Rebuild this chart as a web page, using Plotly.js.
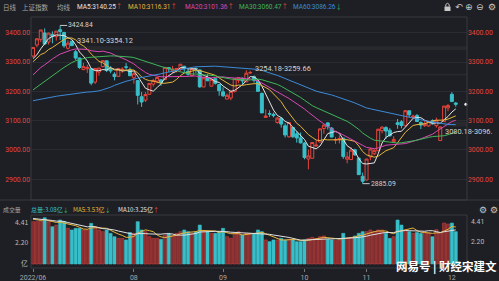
<!DOCTYPE html>
<html><head><meta charset="utf-8">
<script src="https://cdn.plot.ly/plotly-3.0.1.min.js"></script>
<style>html,body{margin:0;padding:0;background:#1e1f24;overflow:hidden}#chart{width:499px;height:281px}</style>
</head><body><div id="chart"></div>
<script>
// ---------------- data ----------------
const dates = [
'2022-06-24','2022-06-27','2022-06-28','2022-06-29','2022-06-30',
'2022-07-01','2022-07-04','2022-07-05','2022-07-06','2022-07-07','2022-07-08','2022-07-11','2022-07-12','2022-07-13','2022-07-14','2022-07-15','2022-07-18','2022-07-19','2022-07-20','2022-07-21','2022-07-22','2022-07-25','2022-07-26','2022-07-27','2022-07-28','2022-07-29',
'2022-08-01','2022-08-02','2022-08-03','2022-08-04','2022-08-05','2022-08-08','2022-08-09','2022-08-10','2022-08-11','2022-08-12','2022-08-15','2022-08-16','2022-08-17','2022-08-18','2022-08-19','2022-08-22','2022-08-23','2022-08-24','2022-08-25','2022-08-26','2022-08-29','2022-08-30','2022-08-31',
'2022-09-01','2022-09-02','2022-09-05','2022-09-06','2022-09-07','2022-09-08','2022-09-09','2022-09-13','2022-09-14','2022-09-15','2022-09-16','2022-09-19','2022-09-20','2022-09-21','2022-09-22','2022-09-23','2022-09-26','2022-09-27','2022-09-28','2022-09-29','2022-09-30',
'2022-10-10','2022-10-11','2022-10-12','2022-10-13','2022-10-14','2022-10-17','2022-10-18','2022-10-19','2022-10-20','2022-10-21','2022-10-24','2022-10-25','2022-10-26','2022-10-27','2022-10-28','2022-10-31',
'2022-11-01','2022-11-02','2022-11-03','2022-11-04','2022-11-07','2022-11-08','2022-11-09','2022-11-10','2022-11-11','2022-11-14','2022-11-15','2022-11-16','2022-11-17','2022-11-18','2022-11-21','2022-11-22','2022-11-23','2022-11-24','2022-11-25','2022-11-28','2022-11-29','2022-11-30',
'2022-12-01','2022-12-02'];

const opens = [3320.6,3358.1,3377.5,3399.2,3368.3,3394.6,3386.8,3410.2,3400.9,3346.9,
3371.2,3335.0,3313.6,3274.0,3277.3,3277.0,3231.6,3265.9,3284.8,3304.2,
3273.7,3258.5,3251.1,3272.1,3283.4,3272.6,3246.2,3236.7,3181.6,3170.1,
3190.1,3224.6,3234.8,3239.4,3240.6,3281.1,3268.6,3274.2,3277.6,3285.5,
3268.8,3253.9,3278.3,3273.0,3215.0,3246.8,3217.8,3243.4,3223.0,3198.3,
3173.6,3177.3,3199.0,3237.7,3244.2,3232.3,3263.0,3250.0,3234.8,3193.0,
3111.1,3123.8,3121.5,3093.8,3108.0,3082.5,3045.0,3077.0,3055.0,3041.3,
3023.4,2969.2,2971.8,3013.6,3027.1,3073.2,3092.5,3074.5,3034.2,3036.6,
3040.4,2968.5,2967.4,3000.6,2972.1,2910.4,2897.6,2976.4,2987.3,2997.4,
3065.7,3076.3,3067.4,3028.4,3092.8,3096.0,3082.8,3133.6,3111.1,3117.3,
3093.5,3083.0,3082.0,3099.6,3083.0,3032.3,3096.9,3143.5,3190.0,3160.2];

const highs = [3349.9,3381.6,3409.6,3414.7,3400.0,3404.7,3405.7,3424.84,3403.0,3374.6,
3371.6,3341.10,3315.0,3297.2,3290.7,3278.0,3278.1,3280.0,3305.3,3304.2,
3286.0,3265.3,3280.2,3282.3,3296.5,3281.3,3265.1,3236.7,3197.9,3197.8,
3227.9,3242.5,3248.0,3240.3,3282.0,3282.6,3287.0,3280.0,3293.0,3287.0,
3280.3,3277.8,3281.2,3274.5,3248.4,3259.0,3245.6,3244.5,3225.3,3213.9,
3192.5,3201.9,3243.5,3248.8,3247.7,3272.1,3270.0,3254.18,3240.0,3195.9,
3138.6,3135.3,3127.7,3113.3,3112.0,3091.0,3093.9,3077.0,3063.0,3059.7,
3026.7,3001.3,3025.6,3032.8,3073.5,3087.8,3093.3,3078.3,3044.3,3049.7,
3041.0,2993.7,3009.8,3004.3,2974.8,2923.0,2969.2,3007.3,3002.8,3072.3,
3081.0,3081.0,3074.7,3047.1,3105.8,3101.5,3135.6,3134.2,3120.5,3122.7,
3098.2,3099.3,3099.9,3104.4,3110.4,3080.18,3149.8,3157.0,3197.0,3163.7];

const lows = [3315.3,3350.4,3368.0,3358.3,3359.7,3363.9,3373.0,3375.2,3348.9,3342.5,
3354.12,3306.5,3276.7,3272.8,3262.8,3220.9,3225.0,3253.6,3281.4,3265.8,
3261.9,3237.5,3250.5,3263.4,3273.2,3252.7,3226.3,3155.3,3147.1,3163.7,
3188.7,3216.1,3227.6,3218.9,3237.7,3265.8,3261.9,3264.7,3267.5,3263.8,
3253.7,3250.7,3262.9,3212.4,3213.7,3234.8,3216.3,3223.0,3185.2,3180.8,
3173.6,3169.8,3196.4,3228.2,3223.5,3231.4,3259.66,3229.7,3199.8,3126.2,
3110.5,3112.7,3111.1,3090.0,3076.4,3042.4,3042.5,3041.4,3025.0,3021.9,
2968.2,2934.1,2971.5,3010.7,3026.4,3055.3,3069.7,3043.0,3020.6,3022.3,
2969.7,2954.4,2966.0,2981.2,2915.4,2885.09,2896.8,2965.0,2982.3,2996.8,
3056.7,3037.5,3046.1,3023.6,3072.2,3074.0,3079.3,3111.5,3104.4,3095.4,
3071.5,3078.8,3079.3,3086.5,3076.4,3031.6,3096.9,3132.0,3163.3,3147.5];

const closes = [3349.75,3379.19,3409.21,3361.52,3398.62,3387.64,3405.43,3404.03,3355.35,3364.40,
3356.08,3313.58,3281.47,3284.29,3281.74,3228.06,3278.10,3279.43,3304.72,3272.00,
3269.97,3250.39,3277.44,3275.76,3282.58,3253.24,3259.96,3186.27,3163.67,3189.04,
3227.03,3236.93,3247.43,3230.02,3281.67,3276.89,3276.09,3277.88,3292.53,3277.54,
3258.08,3277.79,3276.22,3215.20,3246.25,3236.22,3240.73,3227.22,3202.14,3184.98,
3186.48,3199.91,3243.45,3246.29,3235.59,3262.05,3263.80,3237.54,3199.92,3126.40,
3115.60,3122.41,3117.18,3108.91,3088.37,3051.23,3093.86,3045.07,3041.20,3024.39,
2974.15,2979.79,3025.51,3016.36,3071.99,3084.94,3080.96,3044.17,3035.05,3038.93,
2977.56,2976.28,2999.50,2982.90,2915.93,2893.48,2969.20,3003.37,2997.81,3070.80,
3077.82,3064.49,3048.17,3036.13,3087.29,3083.40,3134.08,3119.98,3115.43,3097.24,
3085.04,3088.94,3096.91,3089.31,3101.69,3078.55,3149.75,3151.34,3165.47,3156.14];

// volume, 亿手
const volumes = [4.03,4.03,4.10,4.41,4.03,3.55,3.71,4.19,4.03,3.40,
3.24,3.40,3.40,3.24,3.24,3.87,3.55,3.24,3.08,3.24,
2.92,2.60,2.44,2.44,2.29,3.00,2.92,4.03,3.24,3.08,
2.60,2.44,2.44,2.35,2.76,2.92,2.76,2.92,3.08,3.24,
3.08,2.92,3.08,3.71,3.08,3.08,2.92,2.92,3.08,3.40,
2.60,2.44,2.92,3.08,2.76,2.92,2.92,2.90,3.24,3.08,
2.29,2.13,2.29,2.29,2.44,2.29,2.35,2.29,2.13,2.13,
2.29,2.44,2.54,2.44,2.60,2.67,2.35,2.29,2.22,2.29,
2.92,2.44,2.54,2.67,2.92,3.08,3.08,3.24,3.08,3.24,
3.24,2.92,2.44,2.60,4.19,3.71,3.24,3.08,2.92,3.00,
2.92,3.08,2.98,2.60,3.27,2.97,3.90,3.80,3.90,3.08];

// closes / volumes of the trading days before the visible window (for the moving averages)
const priorCloses = [3212.24,3214.50,3203.94,3266.60,3252.20,
3282.72,3283.43,3236.70,3251.85,3167.13,3213.33,3186.82,3225.64,3211.24,3195.52,3194.03,3151.05,3079.81,3086.92,2928.51,2886.43,2958.28,2975.48,3047.06,
3067.76,3001.56,3004.14,3035.84,3058.70,3054.99,3084.28,3073.75,3093.70,3085.98,3096.96,3146.57,3146.86,3070.93,3107.46,3123.11,3130.24,3149.06,3186.43,
3182.16,3195.46,3236.37,3241.76,3263.79,3238.95,3284.83,3255.55,3288.91,3305.41,3285.38,3316.79,3315.43,3306.72,3267.20,3320.15];
const priorVolumes = [4.3,4.5,4.4,4.6,4.2,4.3,4.4,4.1,4.5];

const maPeriods = [5,10,20,30,60];
const maNames = ['MA5','MA10','MA20','MA30','MA60'];
const maLegendValues = ['3140.25','3116.31','3101.36','3060.47','3086.26'];
const maLegendUp = [true,true,true,true,false];
const volMaPeriods = [5,10];

const priceTicks = [2900,3000,3100,3200,3300,3400];
const volTicks = [4.41,2.20,0];
const volTickText = ['4.41','2.20','亿'];
const monthKeys = ['2022-06','2022-08','2022-09','2022-10','2022-11','2022-12'];
const monthLabels = ['2022/06','08','09','10','11','12'];

const gapDates = ['2022-07-11','2022-09-14','2022-11-29'];
const gapLow = [3341.10,3254.18,3080.18];
const gapHigh = [3354.12,3259.66,3096.90];
const gapLabels = ['3341.10-3354.12','3254.18-3259.66','3080.18-3096.'];
const gapTextAbove = [true,true,false];

// ---------------- helpers ----------------
const W = 499, H = 281;
const px = x => x / W, py = y => 1 - y / H;
const n = closes.length;
const xs = dates.map((d, i) => i);
function movingAvg(series, prefix, len) {
  const full = prefix.concat(series), off = prefix.length;
  return series.map((_, i) => {
    const end = off + i, start = end - len + 1;
    if (start < 0) return null;
    let s = 0; for (let k = start; k <= end; k++) s += full[k];
    return s / len;
  });
}
const BG = '#1e1f24', RED = '#e8453c', CYAN = '#38bfc9', GREEN = '#2fbf5f';
const maColors = ['#e6e6e6','#e5b53b','#d948b4','#3fb65a','#3b8bd8'];
const FONT = 'Roboto, "Noto Sans CJK SC", sans-serif';
const CJK = '"Noto Sans CJK SC", Roboto, sans-serif';
const xRange = [-0.52, n + 1.9];
const yMain = [2829.4, 3453.6];
const yVol = [-0.381, 4.667];

const up = closes.map((c, i) => c >= opens[i]);

const traces = [];
traces.push({
  type: 'candlestick', x: xs, open: opens, high: highs, low: lows, close: closes,
  xaxis: 'x', yaxis: 'y', whiskerwidth: 0, hoverinfo: 'skip',
  increasing: {line: {color: RED, width: 1}, fillcolor: BG},
  decreasing: {line: {color: CYAN, width: 1}, fillcolor: CYAN}
});
maPeriods.forEach((p, k) => {
  traces.push({type: 'scatter', mode: 'lines', x: xs, y: movingAvg(closes, priorCloses, p),
    xaxis: 'x', yaxis: 'y', line: {color: maColors[k], width: 1}, hoverinfo: 'skip'});
});
traces.push({type: 'bar', x: xs, y: volumes, xaxis: 'x', yaxis: 'y2', hoverinfo: 'skip',
  marker: {color: up.map(u => u ? '#822d2f' : CYAN),
           line: {color: up.map(u => u ? '#c8423e' : CYAN), width: 0.6}}});
const volMaColors = ['#e5b53b', '#e0e0e0'];
volMaPeriods.forEach((p, k) => {
  traces.push({type: 'scatter', mode: 'lines', x: xs, y: movingAvg(volumes, priorVolumes, p),
    xaxis: 'x', yaxis: 'y2', line: {color: volMaColors[k], width: 1}, hoverinfo: 'skip'});
});
// last price marker at right edge
traces.push({type: 'scatter', mode: 'markers', x: [xRange[1] - 0.3], y: [closes[n - 1]],
  xaxis: 'x', yaxis: 'y', marker: {color: '#f0f0f0', size: 3}, hoverinfo: 'skip', cliponaxis: false});
// carrier trace for right-hand price axis
traces.push({type: 'scatter', mode: 'lines', x: xs, y: closes, xaxis: 'x', yaxis: 'y3', opacity: 0, line: {width: 0}, hoverinfo: 'skip'});

const tickIdx = monthKeys.map(m => dates.findIndex(d => d.startsWith(m)));

const shapes = [
  {type: 'rect', xref: 'paper', yref: 'paper', x0: px(31), x1: px(467), y0: py(200), y1: py(17), line: {color: '#383a41', width: 1}},
  {type: 'rect', xref: 'paper', yref: 'paper', x0: px(31), x1: px(467), y0: py(268), y1: py(215), line: {color: '#383a41', width: 1}},
  {type: 'line', xref: 'paper', yref: 'paper', x0: 0, x1: 1, y0: py(200), y1: py(200), line: {color: '#383a41', width: 1}},
  // lock icon
  {type: 'rect', xref: 'paper', yref: 'paper', x0: px(444.5), x1: px(450.5), y0: py(11), y1: py(6.5), fillcolor: '#c8c8c8', line: {width: 0}},
  {type: 'path', xref: 'paper', yref: 'paper', path: `M ${px(445.8)} ${py(6.5)} L ${px(445.8)} ${py(4.5)} Q ${px(447.5)} ${py(2)} ${px(449.2)} ${py(4.5)} L ${px(449.2)} ${py(6.5)}`, line: {color: '#c8c8c8', width: 1}}
];
const annotations = [];
gapDates.forEach((d, k) => {
  const gi = dates.indexOf(d);
  shapes.push({type: 'rect', xref: 'x', yref: 'y', x0: gi, x1: xRange[1], y0: gapLow[k], y1: gapHigh[k],
    fillcolor: 'rgba(200,200,210,0.06)', line: {width: 0}, layer: 'below'});
  annotations.push({xref: 'x', yref: 'y', x: gi, y: gapTextAbove[k] ? gapHigh[k] : gapLow[k],
    xanchor: 'left', yanchor: gapTextAbove[k] ? 'bottom' : 'top', showarrow: false, text: gapLabels[k],
    font: {family: FONT, size: 7.4, color: '#d2d2d2'}, borderpad: 0});
});
// highest / lowest labels
const hiIdx = highs.indexOf(Math.max(...highs));
const loIdx = lows.indexOf(Math.min(...lows));
[[hiIdx, highs[hiIdx]], [loIdx, lows[loIdx]]].forEach(([i, v]) => {
  annotations.push({xref: 'x', yref: 'y', x: i, y: v, text: v.toFixed(2), showarrow: true, arrowhead: 0,
    arrowwidth: 1, arrowcolor: '#c8c8c8', ax: 7, ay: 0, xanchor: 'left', standoff: 0, borderpad: 0,
    font: {family: FONT, size: 6.8, color: '#d2d2d2'}});
});
// volume axis labels (left + right), nudged like the reference
const volLabelShift = [-4.5, -1.4, 0.8];
volTicks.forEach((v, k) => {
  annotations.push({xref: 'paper', yref: 'y2', x: px(28.5), y: v, xanchor: 'right', yanchor: 'middle', yshift: volLabelShift[k],
    showarrow: false, text: volTickText[k], font: {family: CJK, size: 6.8, color: '#bdbdbd'}, borderpad: 0});
  if (k < 2) annotations.push({xref: 'paper', yref: 'y2', x: px(470), y: v, xanchor: 'left', yanchor: 'middle', yshift: volLabelShift[k],
    showarrow: false, text: volTickText[k], font: {family: FONT, size: 6.8, color: '#bdbdbd'}, borderpad: 0});
});
function label(x, y, text, color, size, fam) {
  annotations.push({xref: 'paper', yref: 'paper', x: px(x), y: py(y), xanchor: 'left', yanchor: 'middle',
    showarrow: false, text: text, font: {family: fam || CJK, size: size || 6.5, color: color}, borderpad: 0});
}
const arrowSpan = u => `<span style="color:${u ? RED : GREEN}">${u ? '↑' : '↓'}</span>`;
label(2, 7.5, '日线', '#a8a8a8');
label(21, 7.5, '上证指数', '#a8a8a8');
label(56, 7.5, '均线', '#a8a8a8');
const maLegendX = [76, 127, 184, 238, 292];
maNames.forEach((nm, k) => label(maLegendX[k], 7.5, `${nm}:${maLegendValues[k]}${arrowSpan(maLegendUp[k])}`, maColors[k], 6.5, FONT));
// volume header
label(2, 209.5, '成交量', '#a8a8a8', 5.9);
label(30, 209.5, `总量:3.08亿${arrowSpan(false)}`, CYAN, 6.1);
label(72, 209.5, `MA5:3.53亿${arrowSpan(false)}`, '#e5b53b', 6.1);
label(117, 209.5, `MA10:3.25亿${arrowSpan(true)}`, '#e0e0e0', 6.1);
// toolbar glyphs
[['↶', 454], ['⊕', 463.5], ['⊖', 474.5], ['⚙', 487]].forEach(([g, x]) => label(x, 7.5, g, '#c8c8c8', 9, '"DejaVu Sans"'));
[['⚙', 478], ['⚙', 489]].forEach(([g, x]) => label(x, 209.5, g, '#c8c8c8', 9, '"DejaVu Sans"'));
// watermark
annotations.push({xref: 'paper', yref: 'paper', x: px(446), y: py(266), xanchor: 'center', yanchor: 'middle', showarrow: false,
  text: '<b>网易号 | 财经宋建文</b>', font: {family: CJK, size: 11.5, color: '#ffffff'}});

const axFontRed = {family: FONT, size: 6.8, color: RED};
const layout = {
  width: W, height: H, margin: {l: 0, r: 0, t: 0, b: 0},
  paper_bgcolor: BG, plot_bgcolor: BG, showlegend: false,
  boxgap: 0.15, boxgroupgap: 0.1, bargap: 0.2, dragmode: false,
  xaxis: {domain: [px(31), px(467)], range: xRange, anchor: 'y2', showgrid: false, zeroline: false, showline: false,
    tickmode: 'array', tickvals: tickIdx, ticktext: monthLabels, ticks: 'outside', ticklen: 3, tickcolor: '#777',
    tickfont: {family: FONT, size: 7, color: '#a8a8a8'}, rangeslider: {visible: false}, fixedrange: true},
  yaxis: {domain: [py(200), py(17)], range: yMain, anchor: 'x', side: 'left', tickmode: 'array', tickvals: priceTicks,
    tickformat: '.2f', tickfont: axFontRed, gridcolor: '#2a2c32', gridwidth: 1, zeroline: false, showline: false, ticks: '', fixedrange: true},
  yaxis3: {overlaying: 'y', anchor: 'x', side: 'right', range: yMain, tickmode: 'array', tickvals: priceTicks,
    tickformat: '.2f', tickfont: axFontRed, showgrid: false, zeroline: false, showline: false, ticks: '', fixedrange: true},
  yaxis2: {domain: [py(268), py(215)], range: yVol, anchor: 'x', side: 'left', showticklabels: false,
    showgrid: false, zeroline: false, showline: false, ticks: '', fixedrange: true},
  shapes: shapes, annotations: annotations
};
Plotly.newPlot('chart', traces, layout, {displayModeBar: false, staticPlot: true});
</script>
</body></html>
